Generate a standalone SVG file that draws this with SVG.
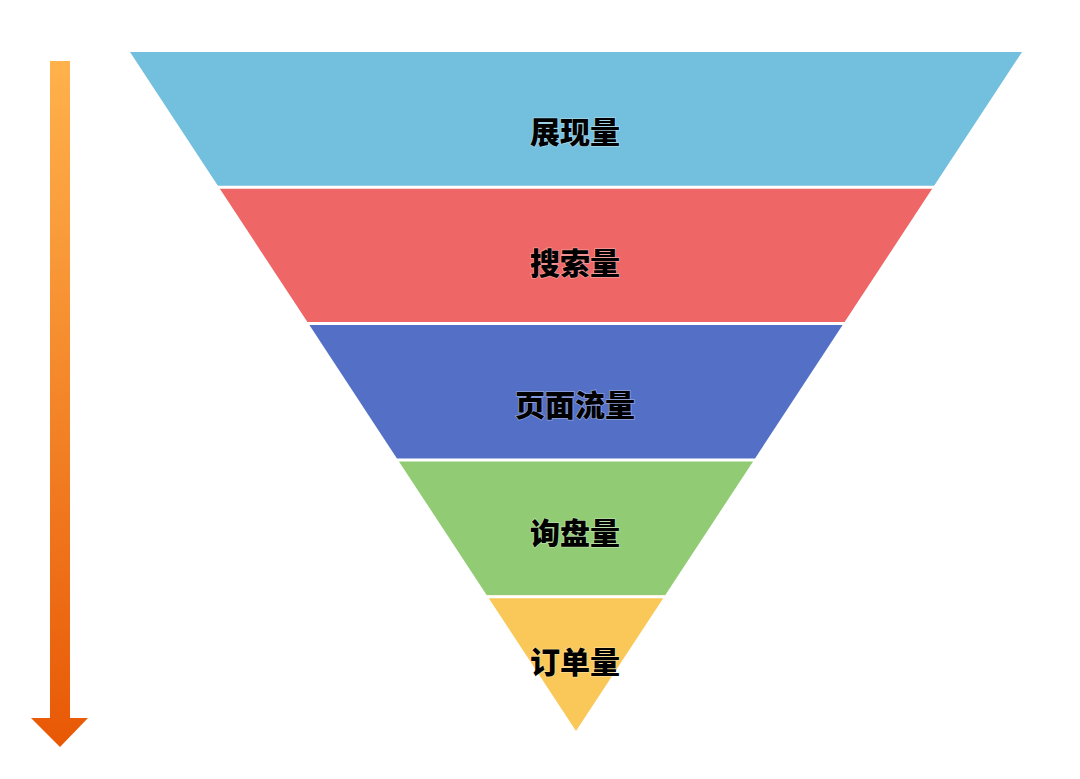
<svg xmlns="http://www.w3.org/2000/svg" width="1080" height="779" viewBox="0 0 1080 779">
  <defs>
    <linearGradient id="arrowGrad" x1="0" y1="0" x2="0" y2="1">
      <stop offset="0" stop-color="#FFB24C"/>
      <stop offset="1" stop-color="#E85805"/>
    </linearGradient>
  </defs>
  <style>
    .sep { stroke: #ffffff; stroke-width: 3; }
    .label { font-family: "Noto Sans CJK SC", "Noto Sans", sans-serif; font-weight: 900; font-size: 30px; fill: #000000; text-anchor: middle; dominant-baseline: central; stroke: #ffffff; stroke-opacity: 0.35; stroke-width: 1.5; paint-order: stroke; }
  </style>
  <rect width="1080" height="779" fill="#ffffff"/>
  <g id="arrow">
    <path d="M50,61 H70 V718 H88 L60,747 L31,718 H50 Z" fill="url(#arrowGrad)"/>
  </g>
  <g id="node-1">
    <polygon fill="#73BFDE" points="130,52 1022,52 932.8,187.8 219.2,187.8"/>
    <text class="label" x="575" y="130">展现量</text>
  </g>
  <g id="node-2">
    <polygon fill="#EE6666" points="219.2,187.8 932.8,187.8 843.6,323.6 308.4,323.6"/>
    <text class="label" x="575" y="261">搜索量</text>
  </g>
  <g id="node-3">
    <polygon fill="#5470C6" points="308.4,323.6 843.6,323.6 754.4,459.4 397.6,459.4"/>
    <text class="label" x="575" y="403">页面流量</text>
  </g>
  <g id="node-4">
    <polygon fill="#91CC75" points="397.6,459.4 754.4,459.4 665.2,595.2 486.8,595.2"/>
    <text class="label" x="575" y="531">询盘量</text>
  </g>
  <g id="node-5">
    <polygon fill="#FAC858" points="486.8,595.2 665.2,595.2 576,731"/>
    <text class="label" x="575" y="660">订单量</text>
  </g>
  <g id="connectors">
    <line class="sep" x1="200" y1="187.3" x2="950" y2="187.3"/>
    <line class="sep" x1="290" y1="323.6" x2="860" y2="323.6"/>
    <line class="sep" x1="380" y1="459.9" x2="770" y2="459.9"/>
    <line class="sep" x1="470" y1="596.7" x2="680" y2="596.7"/>
  </g>
</svg>
